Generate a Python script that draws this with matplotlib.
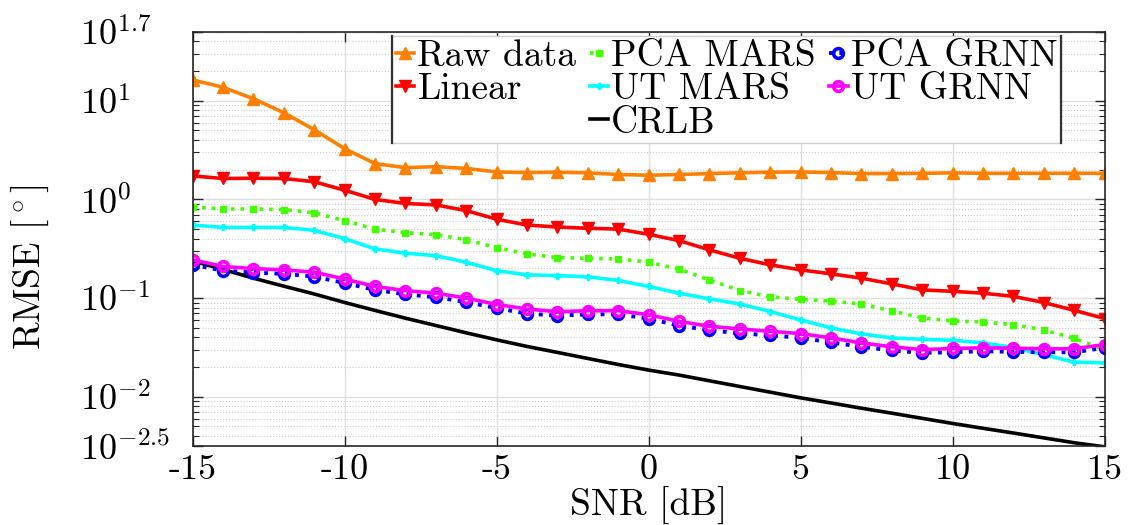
import matplotlib
matplotlib.use("Agg")
import matplotlib.pyplot as plt
from matplotlib.lines import Line2D
from matplotlib.ticker import LogLocator, NullFormatter

plt.rcParams['font.family'] = 'serif'
plt.rcParams['font.serif'] = ['cmr10']
plt.rcParams['mathtext.fontset'] = 'cm'
plt.rcParams['axes.formatter.use_mathtext'] = True
plt.rcParams['axes.unicode_minus'] = False

snr = list(range(-15, 16))

raw = [16.3, 13.7, 10.5, 7.57, 5.09, 3.27, 2.31, 2.10, 2.15, 2.06, 1.90, 1.87, 1.89, 1.86, 1.79, 1.76,
       1.79, 1.83, 1.86, 1.89, 1.90, 1.87, 1.83, 1.83, 1.84, 1.86, 1.84, 1.84, 1.84, 1.84, 1.84]
linear = [1.73, 1.63, 1.64, 1.63, 1.51, 1.24, 1.00, 0.91, 0.88, 0.77, 0.63, 0.55, 0.525, 0.51, 0.50, 0.443,
          0.382, 0.308, 0.253, 0.217, 0.193, 0.176, 0.159, 0.139, 0.121, 0.117, 0.112, 0.104, 0.090, 0.075, 0.062]
pca_mars = [0.84, 0.80, 0.80, 0.79, 0.73, 0.61, 0.50, 0.46, 0.44, 0.39, 0.324, 0.28, 0.257, 0.253, 0.249, 0.231,
            0.196, 0.153, 0.119, 0.103, 0.097, 0.093, 0.087, 0.074, 0.063, 0.0586, 0.0572, 0.0537, 0.0475, 0.039, 0.030]
ut_mars = [0.55, 0.52, 0.52, 0.52, 0.486, 0.40, 0.315, 0.285, 0.269, 0.231, 0.189, 0.172, 0.169, 0.164, 0.151, 0.131,
           0.112, 0.098, 0.087, 0.073, 0.060, 0.0498, 0.0433, 0.0394, 0.0382, 0.0373, 0.0351, 0.0315, 0.0266, 0.0224, 0.022]
pca_grnn = [0.217, 0.190, 0.181, 0.176, 0.165, 0.142, 0.121, 0.109, 0.102, 0.091, 0.079, 0.0695, 0.0663, 0.0684, 0.0684, 0.0618,
            0.0525, 0.0471, 0.0439, 0.0419, 0.0394, 0.0356, 0.032, 0.0294, 0.0278, 0.0282, 0.0289, 0.0285, 0.0282, 0.0282, 0.0313]
ut_grnn = [0.244, 0.209, 0.199, 0.193, 0.183, 0.156, 0.131, 0.119, 0.112, 0.100, 0.086, 0.0774, 0.0727, 0.0744, 0.0744, 0.0678,
           0.058, 0.0517, 0.0486, 0.046, 0.0436, 0.0394, 0.0351, 0.032, 0.030, 0.0308, 0.0313, 0.031, 0.0306, 0.0306, 0.0338]
crlb = [0.238, 0.195, 0.159, 0.132, 0.110, 0.0902, 0.0749, 0.0625, 0.0527, 0.0444, 0.0377, 0.0323, 0.0281, 0.0244, 0.0212, 0.0186,
        0.01656, 0.01449, 0.01268, 0.01111, 0.00973, 0.00863, 0.00764, 0.0068, 0.00603, 0.00535, 0.00478, 0.00428, 0.00382, 0.00341, 0.0031]

xticks = [-15, -10, -5, 0, 5, 10, 15]
xticklabels = ['-15', '-10', '-5', '0', '5', '10', '15']
yticks = [10 ** 1.7, 10.0, 1.0, 0.1, 0.01, 10 ** -2.5]
yticklabels = [r'$10^{1.7}$', r'$10^{1}$', r'$10^{0}$', r'$10^{-1}$', r'$10^{-2}$', r'$10^{-2.5}$']

fig = plt.figure(figsize=(11.33, 5.25), dpi=100)
ax = fig.add_axes([0.170, 0.1505, 0.805, 0.789])

ax.grid(True, which='major', color='0.88', linewidth=1.0, linestyle='-')
ax.grid(True, which='minor', axis='y', color='0.8', linewidth=0.8, linestyle=':')

h_raw, = ax.plot(snr, raw, color='#ff8000', marker='^', markersize=9, linewidth=2.6, label='Raw data')
h_lin, = ax.plot(snr, linear, color='#ff0000', marker='v', markersize=9, linewidth=2.6, label='Linear')
h_pm, = ax.plot(snr, pca_mars, color='#44ff00', marker='s', markersize=4.5, linewidth=2.6,
                linestyle=':', label='PCA MARS')
h_um, = ax.plot(snr, ut_mars, color='#00ffff', marker='P', markersize=5, linewidth=2.6, label='UT MARS')
h_cr, = ax.plot(snr, crlb, color='black', linewidth=2.6, label='CRLB')
h_pg, = ax.plot(snr, pca_grnn, color='#0000ff', marker='o', markersize=7, markerfacecolor='none',
                markeredgewidth=2.6, linewidth=2.8, linestyle=':', label='PCA GRNN')
h_ug, = ax.plot(snr, ut_grnn, color='#ff00ff', marker='o', markersize=7, markerfacecolor='none',
                markeredgewidth=2.6, linewidth=2.6, label='UT GRNN')

ax.set_yscale('log')
ax.set_xlim(-15, 15)
ax.set_ylim(10 ** -2.5, 10 ** 1.7)
ax.set_xticks(xticks)
ax.set_xticklabels(xticklabels)
ax.set_yticks(yticks)
ax.set_yticklabels(yticklabels)
ax.yaxis.set_minor_locator(LogLocator(base=10, subs=range(2, 10), numticks=20))
ax.yaxis.set_minor_formatter(NullFormatter())
ax.tick_params(which='both', direction='in', top=True, right=True, labelsize=26, colors='0.15',
               labelcolor='black')
ax.tick_params(which='major', length=7, width=1)
ax.tick_params(which='minor', length=4, width=0.8)
ax.tick_params(axis='x', pad=6)
# y labels are left-aligned in one column
ax.tick_params(axis='y', pad=81)
for t in ax.get_yticklabels():
    t.set_horizontalalignment('left')
for s in ax.spines.values():
    s.set_color('0.15')
    s.set_linewidth(1.2)

ax.set_xlabel('SNR [dB]', fontsize=27, labelpad=1)
ax.set_ylabel(r'RMSE [$^\circ$]', fontsize=27)
ax.yaxis.set_label_coords(-0.155, 0.432)

# blank slots keep the legend columns laid out as Raw/Linear | MARS/CRLB | GRNN
blank = Line2D([], [], linestyle='none', marker='none')
handles = [h_raw, h_lin, blank, h_pm, h_um, h_cr, h_pg, h_ug, blank]
labels = ['Raw data', 'Linear', '', 'PCA MARS', 'UT MARS', 'CRLB', 'PCA GRNN', 'UT GRNN', '']
leg = ax.legend(handles, labels, ncol=3, loc='upper left', bbox_to_anchor=(0.2186, 0.9896),
                fontsize=27, handlelength=0.5, handletextpad=0.08, columnspacing=0.35,
                labelspacing=0.0, borderpad=0.1, borderaxespad=0, fancybox=False,
                framealpha=1, edgecolor='0.82')
leg.get_frame().set_linewidth(1.0)

# darker side edges on the legend box
fig.canvas.draw()
bb = leg.get_frame().get_window_extent().transformed(fig.transFigure.inverted())
for xe in (bb.x0, bb.x1):
    fig.add_artist(Line2D([xe, xe], [bb.y0, bb.y1], transform=fig.transFigure,
                          color='0.2', linewidth=1.6))

fig.savefig('out.png', dpi=100)
